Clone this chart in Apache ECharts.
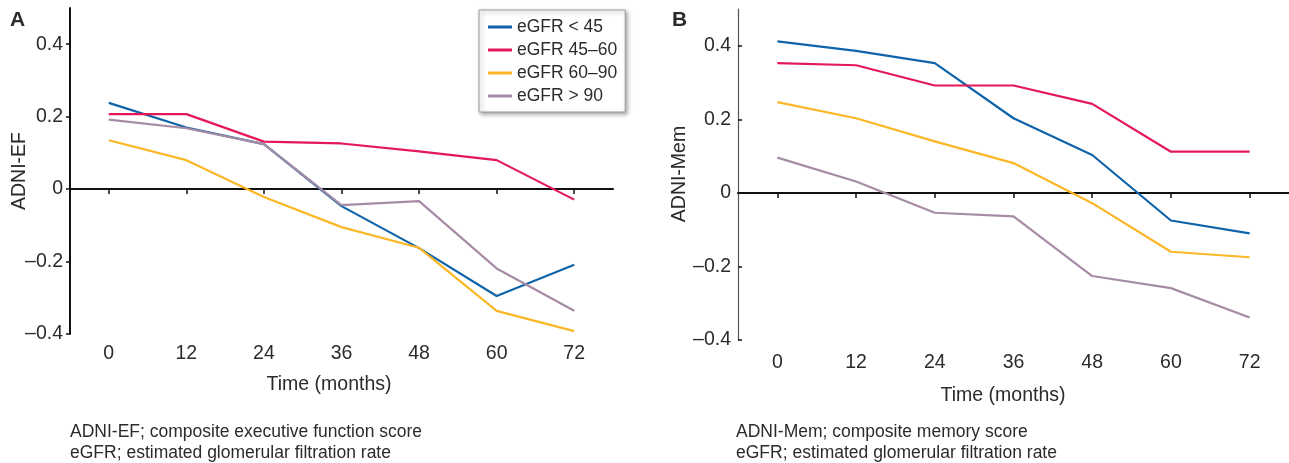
<!DOCTYPE html>
<html>
<head>
<meta charset="utf-8">
<script src="https://cdn.jsdelivr.net/npm/echarts@6/dist/echarts.min.js"></script>
<style>
html,body{margin:0;padding:0;background:#fff;}
#chart{width:1289px;height:463px;}
</style>
</head>
<body>
<div id="chart"></div>
<script>
const months = ['0', '12', '24', '36', '48', '60', '72'];
const yTicks = [-0.4, -0.2, 0, 0.2, 0.4];
const groupNames = ['eGFR < 45', 'eGFR 45–60', 'eGFR 60–90', 'eGFR > 90'];
const groupColors = ['#0f63a8', '#e4175b', '#fbb726', '#a68ba5'];

// Panel A: ADNI-EF
const efLt45   = [0.238, 0.170, 0.124, -0.047, -0.163, -0.295, -0.209];
const ef45to60 = [0.207, 0.207, 0.131, 0.126, 0.104, 0.080, -0.029];
const ef60to90 = [0.135, 0.080, -0.022, -0.105, -0.162, -0.336, -0.392];
const efGt90   = [0.192, 0.168, 0.124, -0.044, -0.033, -0.219, -0.336];

// Panel B: ADNI-Mem
const memLt45   = [0.412, 0.386, 0.353, 0.203, 0.103, -0.075, -0.110];
const mem45to60 = [0.353, 0.347, 0.292, 0.292, 0.242, 0.112, 0.112];
const mem60to90 = [0.247, 0.203, 0.140, 0.081, -0.028, -0.160, -0.175];
const memGt90   = [0.096, 0.031, -0.054, -0.064, -0.226, -0.259, -0.339];

const efData = [efLt45, ef45to60, ef60to90, efGt90];
const memData = [memLt45, mem45to60, mem60to90, memGt90];

const FONT = '"Liberation Sans", Arial, Helvetica, sans-serif';
const TXT = '#2b2b2b';

function fmt(v) {
  if (Math.abs(v) < 1e-9) return '0';
  const s = Math.abs(v).toFixed(1);
  return (v < 0 ? '–' : '') + s;
}

function yAxisCfg(gridIndex, inside, lineColor, lineWidth) {
  return {
    type: 'value', gridIndex: gridIndex, min: -0.4, max: 0.5, interval: 0.1,
    splitLine: { show: false },
    axisLine: { show: true, onZero: false, lineStyle: { color: lineColor, width: lineWidth } },
    axisTick: { show: true, inside: inside, length: 4, customValues: yTicks,
      lineStyle: { color: '#111', width: 1.5 } },
    axisLabel: { customValues: yTicks, formatter: fmt, margin: 7,
      color: TXT, fontSize: 19.5, fontFamily: FONT }
  };
}

function xZeroAxis(gridIndex) {
  return {
    type: 'category', gridIndex: gridIndex, data: months, boundaryGap: true,
    axisLine: { show: true, onZero: true, lineStyle: { color: '#111', width: 2 } },
    axisTick: { show: true, alignWithLabel: true, length: 5, lineStyle: { color: '#111', width: 1.5 } },
    axisLabel: { show: false },
    splitLine: { show: false }
  };
}

function xLabelAxis(gridIndex, margin) {
  return {
    type: 'category', gridIndex: gridIndex, data: months, boundaryGap: true, position: 'bottom',
    axisLine: { show: false, onZero: false },
    axisTick: { show: false },
    axisLabel: { show: true, margin: margin, color: TXT, fontSize: 19.5, fontFamily: FONT },
    splitLine: { show: false }
  };
}

const series = [];
[efData, memData].forEach(function (panel, p) {
  panel.forEach(function (vals, i) {
    series.push({
      name: groupNames[i], type: 'line', xAxisIndex: p * 2, yAxisIndex: p,
      data: vals, showSymbol: false, symbol: 'none',
      lineStyle: { color: groupColors[i], width: 2.2 },
      itemStyle: { color: groupColors[i] },
      z: 3 + (i === 3 ? 1 : 0)
    });
  });
});

function txt(x, y, text, opt) {
  return {
    type: 'text', x: x, y: y, rotation: opt.rotation || 0, silent: true,
    style: Object.assign({ text: text, fill: TXT, font: opt.font,
      align: opt.align || 'left', verticalAlign: opt.va || 'middle' }, opt.style || {})
  };
}

const chart = echarts.init(document.getElementById('chart'), null, { renderer: 'canvas' });
chart.setOption({
  animation: false,
  backgroundColor: '#ffffff',
  grid: [
    { left: 70, right: 676, top: 8, bottom: 129 },
    { left: 738, right: -2, top: 9, bottom: 123 }
  ],
  xAxis: [xZeroAxis(0), xLabelAxis(0, 10), xZeroAxis(1), xLabelAxis(1, 13)],
  yAxis: [yAxisCfg(0, false, '#111', 2), yAxisCfg(1, true, '#555', 1.2)],
  legend: {
    data: groupNames, orient: 'vertical', left: 479, top: 10,
    icon: 'rect', itemWidth: 24, itemHeight: 3, itemGap: 5,
    padding: [8, 8, 7, 9],
    backgroundColor: '#fff', borderColor: '#9a9a9a', borderWidth: 1,
    shadowBlur: 4, shadowColor: 'rgba(0,0,0,0.35)', shadowOffsetX: 2, shadowOffsetY: 2,
    textStyle: { color: TXT, fontSize: 17.5, fontFamily: FONT }
  },
  graphic: [
    txt(10, 20, 'A', { font: 'bold 21px ' + FONT }),
    txt(672, 20, 'B', { font: 'bold 21px ' + FONT }),
    txt(20, 171, 'ADNI-EF', { font: '19.5px ' + FONT, rotation: Math.PI / 2, align: 'center' }),
    txt(680, 174, 'ADNI-Mem', { font: '19.5px ' + FONT, rotation: Math.PI / 2, align: 'center' }),
    txt(329, 385, 'Time (months)', { font: '19.5px ' + FONT, align: 'center' }),
    txt(1003, 396, 'Time (months)', { font: '19.5px ' + FONT, align: 'center' }),
    txt(70, 432, 'ADNI-EF; composite executive function score', { font: '17.5px ' + FONT }),
    txt(70, 453, 'eGFR; estimated glomerular filtration rate', { font: '17.5px ' + FONT }),
    txt(736, 432, 'ADNI-Mem; composite memory score', { font: '17.5px ' + FONT }),
    txt(736, 453, 'eGFR; estimated glomerular filtration rate', { font: '17.5px ' + FONT })
  ],
  series: series
});
</script>
</body>
</html>
